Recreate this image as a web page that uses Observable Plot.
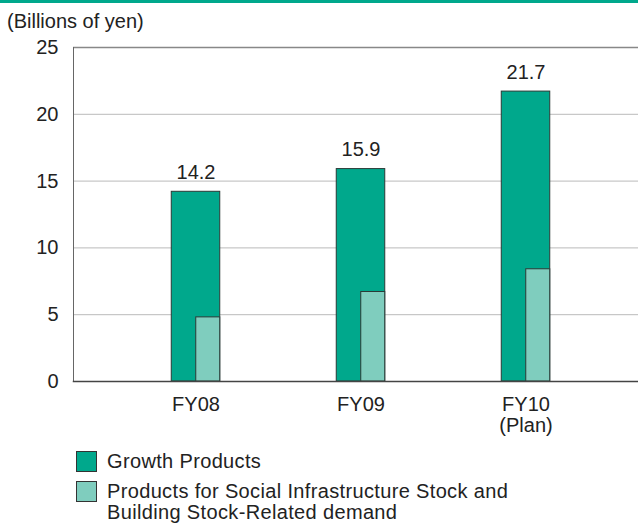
<!DOCTYPE html>
<html><head><meta charset="utf-8">
<script src="https://cdn.jsdelivr.net/npm/d3@7"></script>
<script src="https://cdn.jsdelivr.net/npm/@observablehq/plot@0.6"></script>
<style>
body{margin:0;background:#fff;font-family:"Liberation Sans",Arial,sans-serif;color:#222;width:638px;height:524px;overflow:hidden;position:relative}
#bar{height:3px;background:#00a88c}
#unit{position:absolute;left:7px;top:10px;font-size:20px;}
#chart{position:absolute;left:0;top:3px}
#legend{position:absolute;left:76px;top:451px;font-size:20px;line-height:21px;letter-spacing:0.35px}
.row{display:flex;align-items:flex-start;margin-bottom:9px}
.sw{width:19px;height:19px;border:1px solid #333;margin-right:10px;flex:none}
</style></head>
<body>
<div id="bar"></div>
<div id="unit">(Billions of yen)</div>
<div id="chart"></div>
<div id="legend"></div>
<script>
const years = ["FY08", "FY09", "FY10"];
const yearLabels = ["FY08", "FY09", "FY10\n(Plan)"];
const growth = [14.2, 15.9, 21.7];
const social = [4.8, 6.7, 8.4];
const yTicks = [0, 5, 10, 15, 20, 25];
const seriesNames = ["Growth Products", "Products for Social Infrastructure Stock and\nBuilding Stock-Related demand"];
const colors = ["#00a88c", "#7fcdbe"];

const data = years.map((y, i) => ({year: y, growth: growth[i], social: social[i]}));
const step = 165.5;
const barW = 49;
const inset = (step - barW) / 2;

const chart = Plot.plot({
  width: 638, height: 437,
  marginLeft: 73, marginRight: 0, marginTop: 44, marginBottom: 59,
  style: {fontFamily: '"Liberation Sans", Arial, sans-serif', fontSize: "20px", color: "#222", background: "transparent"},
  x: {domain: years, range: [194.5 - step / 2, 525.5 + step / 2], padding: 0},
  y: {domain: [0, 25]},
  marks: [
    Plot.ruleY(yTicks.filter(d => d > 0 && d < 25), {stroke: "#bbb", strokeWidth: 1}),
    Plot.ruleY([25], {stroke: "#888", strokeWidth: 1.5}),
    Plot.barY(data, {x: "year", y: "growth", fill: colors[0], stroke: "#2a3a36", strokeWidth: 1, insetLeft: inset, insetRight: inset}),
    Plot.barY(data, {x: "year", y: "social", fill: colors[1], stroke: "#2a3a36", strokeWidth: 1, insetLeft: inset + barW / 2, insetRight: inset}),
    Plot.text(data, {x: "year", y: "growth", text: d => d.growth.toFixed(1), dy: -13, lineAnchor: "bottom", fill: "#222", fontSize: 20}),
    Plot.frame({anchor: "left", stroke: "#666"}),
    Plot.frame({anchor: "bottom", stroke: "#444", strokeWidth: 1.5}),
    Plot.axisY({ticks: yTicks, tickSize: 0, tickPadding: 15, label: null, fontSize: 20}),
    Plot.axisX({tickSize: 0, tickPadding: 15, label: null, fontSize: 20, lineHeight: 1.05,
      tickFormat: d => yearLabels[years.indexOf(d)]})
  ]
});
document.getElementById("chart").append(chart);

const legend = document.getElementById("legend");
seriesNames.forEach((name, i) => {
  const row = document.createElement("div");
  row.className = "row";
  const sw = document.createElement("div");
  sw.className = "sw";
  sw.style.background = colors[i];
  const t = document.createElement("div");
  t.innerHTML = name.replace("\n", "<br>");
  row.append(sw, t);
  legend.append(row);
});
</script>
</body></html>
